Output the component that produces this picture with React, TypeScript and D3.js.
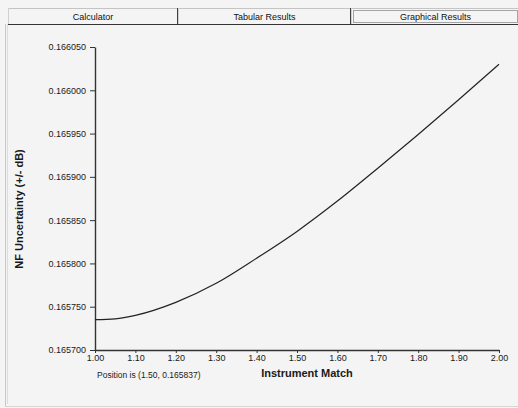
import { useRef, useEffect } from "react";
import * as d3 from "d3";

const tabLabels = ["Calculator", "Tabular Results", "Graphical Results"];
const matchValues = [1.0, 1.05, 1.1, 1.2, 1.3, 1.4, 1.5, 1.6, 1.7, 1.8, 1.9, 2.0];
const uncertaintyValues = [
    0.165735, 0.165736, 0.16574, 0.165755, 0.165777, 0.165806, 0.165837,
    0.165872, 0.16591, 0.165949, 0.165989, 0.16603,
];
const xTicks = [1.0, 1.1, 1.2, 1.3, 1.4, 1.5, 1.6, 1.7, 1.8, 1.9, 2.0];
const yTicks = [
    0.1657, 0.16575, 0.1658, 0.16585, 0.1659, 0.16595, 0.166, 0.16605,
];
const positionText = "Position is (1.50, 0.165837)";

const FONT = "'Liberation Sans', Arial, sans-serif";

export default function App() {
    const svgRef = useRef<SVGSVGElement>(null);

    useEffect(() => {
        if (!svgRef.current) return;
        const svg = d3.select(svgRef.current);
        svg.selectAll("*").remove();

        const width = 518;
        const height = 408;

        svg.append("rect")
            .attr("width", width)
            .attr("height", height)
            .attr("fill", "#f4f4f4");

        // window frame
        svg.append("line")
            .attr("x1", 5.5).attr("x2", 5.5)
            .attr("y1", 24).attr("y2", 406)
            .attr("stroke", "#c8c8c8");
        svg.append("line")
            .attr("x1", 7.5).attr("x2", 7.5)
            .attr("y1", 24).attr("y2", 404)
            .attr("stroke", "#dcdcdc");
        svg.append("line")
            .attr("x1", 5).attr("x2", width)
            .attr("y1", 406.5).attr("y2", 406.5)
            .attr("stroke", "#d6d6d6");

        // tabs
        const tabEdges = [8, 178, 351, 520];
        const tabs = svg.append("g");
        tabLabels.forEach((label, i) => {
            const x0 = tabEdges[i];
            const x1 = tabEdges[i + 1];
            tabs.append("line")
                .attr("x1", x0).attr("x2", x1)
                .attr("y1", 8.5).attr("y2", 8.5)
                .attr("stroke", "#c4c4c4");
            tabs.append("line")
                .attr("x1", x0 + 0.5).attr("x2", x0 + 0.5)
                .attr("y1", 8).attr("y2", 24)
                .attr("stroke", "#d0d0d0");
            tabs.append("line")
                .attr("x1", x1 - 0.5).attr("x2", x1 - 0.5)
                .attr("y1", 8).attr("y2", 25)
                .attr("stroke", "#404040");
            tabs.append("text")
                .attr("x", (x0 + x1) / 2)
                .attr("y", 19.5)
                .attr("text-anchor", "middle")
                .attr("font-family", FONT)
                .attr("font-size", 9)
                .attr("fill", "#111")
                .text(label);
        });
        tabs.append("line")
            .attr("x1", 8).attr("x2", width)
            .attr("y1", 24.5).attr("y2", 24.5)
            .attr("stroke", "#333");
        tabs.append("rect")
            .attr("x", 353.5).attr("y", 10.5)
            .attr("width", 164).attr("height", 12)
            .attr("fill", "none")
            .attr("stroke", "#555")
            .attr("stroke-dasharray", "1,1");

        // chart
        const margin = { top: 47, right: 19, bottom: 58, left: 95 };
        const x = d3
            .scaleLinear()
            .domain([1, 2])
            .range([margin.left, width - margin.right]);
        const y = d3
            .scaleLinear()
            .domain([0.1657, 0.16605])
            .range([height - margin.bottom, margin.top]);

        const yAxis = svg.append("g")
            .attr("transform", `translate(${margin.left},0)`)
            .call(
                d3.axisLeft(y)
                    .tickValues(yTicks)
                    .tickFormat(d3.format(".6f"))
                    .tickSize(5)
                    .tickSizeOuter(0)
                    .tickPadding(4)
            );
        yAxis.select(".domain").attr("stroke", "#333").attr("stroke-width", 1.4);
        yAxis.selectAll(".tick line").attr("stroke", "#333");
        yAxis.selectAll("text")
            .attr("font-family", FONT)
            .attr("font-size", 9)
            .attr("fill", "#1a1a1a");

        const xAxis = svg.append("g")
            .attr("transform", `translate(0,${height - margin.bottom})`)
            .call(
                d3.axisBottom(x)
                    .tickValues(xTicks)
                    .tickFormat(d3.format(".2f"))
                    .tickSize(3)
                    .tickSizeOuter(0)
                    .tickPadding(2)
            );
        xAxis.select(".domain").attr("stroke", "#333").attr("stroke-width", 1.4);
        xAxis.selectAll(".tick line").attr("stroke", "#333");
        xAxis.selectAll("text")
            .attr("font-family", FONT)
            .attr("font-size", 9)
            .attr("fill", "#1a1a1a");

        const line = d3
            .line<number>()
            .x((_, i) => x(matchValues[i]))
            .y((d) => y(d))
            .curve(d3.curveMonotoneX);

        svg.append("path")
            .datum(uncertaintyValues)
            .attr("d", line)
            .attr("fill", "none")
            .attr("stroke", "#222")
            .attr("stroke-width", 1.2);

        svg.append("text")
            .attr("x", 97)
            .attr("y", 378)
            .attr("font-family", FONT)
            .attr("font-size", 8.5)
            .attr("fill", "#1a1a1a")
            .text(positionText);

        svg.append("text")
            .attr("x", 307)
            .attr("y", 377)
            .attr("text-anchor", "middle")
            .attr("font-family", FONT)
            .attr("font-size", 11)
            .attr("font-weight", "bold")
            .attr("fill", "#1a1a1a")
            .text("Instrument Match");

        svg.append("text")
            .attr("transform", "translate(23,209) rotate(-90)")
            .attr("text-anchor", "middle")
            .attr("font-family", FONT)
            .attr("font-size", 11)
            .attr("font-weight", "bold")
            .attr("fill", "#1a1a1a")
            .text("NF Uncertainty (+/- dB)");
    }, []);

    return (
        <svg
            ref={svgRef}
            width={518}
            height={408}
            style={{ position: "absolute", left: 0, top: 0 }}
        />
    );
}
